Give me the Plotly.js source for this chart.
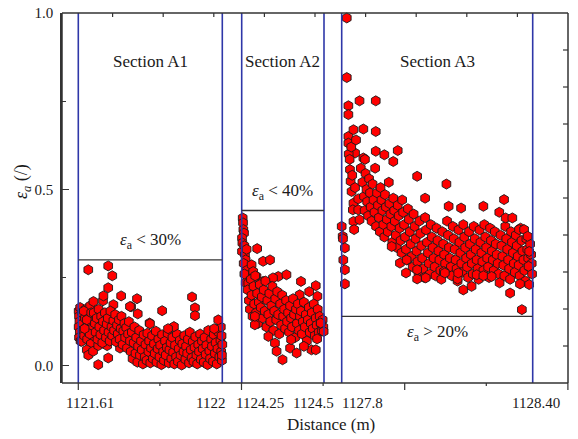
<!DOCTYPE html>
<html>
<head>
<meta charset="utf-8">
<script src="https://cdn.plot.ly/plotly-3.0.1.min.js"></script>
<style>
html,body{margin:0;padding:0;background:#fff;}
#chart{width:578px;height:439px;}
</style>
</head>
<body>
<div id="chart"></div>
<script>
// ---------- data ----------
const sectionNames = ['Section A1', 'Section A2', 'Section A3'];
const sectionStart = [1121.61, 1124.25, 1127.8];
const sectionEnd = [1122, 1124.5, 1128.40];
const thresholds = [0.30, 0.44, 0.14];
const thresholdLabels = ['<i>ε</i><sub>a</sub> &lt; 30%', '<i>ε</i><sub>a</sub> &lt; 40%', '<i>ε</i><sub>a</sub> &gt; 20%'];
const tickLabels = ['1121.61', '1122', '1124.25', '1124.5', '1127.8', '1128.40'];
const yTickVals = [0, 0.5, 1.0];
const yTickText = ['0.0', '0.5', '1.0'];

// [distance (m), strain]
const sectionA1 = [
[1121.611,0.155],[1121.612,0.140],[1121.613,0.125],[1121.611,0.110],[1121.614,0.095],[1121.612,0.080],[1121.615,0.165],[1121.616,0.070],[1121.619,0.069],
[1121.620,0.150],[1121.622,0.120],[1121.624,0.100],[1121.626,0.085],[1121.628,0.135],[1121.630,0.160],[1121.632,0.110],[1121.634,0.075],[1121.636,0.145],[1121.638,0.095],
[1121.640,0.125],[1121.642,0.170],[1121.644,0.062],[1121.646,0.105],[1121.648,0.140],[1121.650,0.085],[1121.625,0.155],[1121.633,0.130],[1121.641,0.090],[1121.645,0.150],[1121.627,0.105],
[1121.637,0.272],[1121.691,0.283],[1121.702,0.255],[1121.691,0.221],[1121.677,0.184],[1121.651,0.182],[1121.678,0.198],[1121.705,0.173],[1121.726,0.198],[1121.769,0.190],
[1121.753,0.167],[1121.771,0.147],[1121.750,0.168],[1121.803,0.121],[1121.633,0.045],[1121.637,0.030],[1121.650,0.041],[1121.664,0.057],[1121.688,0.057],[1121.691,0.022],[1121.664,0.003],[1121.723,0.050],
[1121.652,0.150],[1121.655,0.120],[1121.657,0.095],[1121.660,0.135],[1121.662,0.075],[1121.665,0.160],[1121.667,0.110],[1121.670,0.088],[1121.672,0.140],[1121.675,0.065],
[1121.677,0.125],[1121.680,0.100],[1121.682,0.150],[1121.685,0.080],[1121.687,0.118],[1121.690,0.135],[1121.692,0.095],[1121.695,0.070],[1121.697,0.155],[1121.700,0.110],
[1121.702,0.085],[1121.705,0.128],[1121.707,0.100],[1121.710,0.145],[1121.712,0.068],[1121.715,0.115],[1121.717,0.090],[1121.720,0.130],[1121.722,0.075],[1121.725,0.105],
[1121.727,0.140],[1121.730,0.060],[1121.732,0.098],[1121.735,0.120],[1121.737,0.080],[1121.740,0.108],[1121.742,0.050],[1121.745,0.090],[1121.747,0.125],[1121.750,0.070],
[1121.752,0.040],[1121.755,0.095],[1121.757,0.020],[1121.760,0.065],[1121.762,0.110],[1121.765,0.035],[1121.767,0.080],[1121.770,0.010],[1121.772,0.055],[1121.775,0.100],
[1121.777,0.030],[1121.780,0.070],[1121.782,0.045],[1121.785,0.005],[1121.787,0.088],[1121.790,0.025],[1121.792,0.060],[1121.795,0.015],[1121.797,0.092],[1121.800,0.040],
[1121.802,0.070],[1121.805,0.008],[1121.807,0.050],[1121.810,0.085],[1121.812,0.020],[1121.815,0.062],[1121.817,0.035],[1121.820,0.098],[1121.822,0.010],[1121.825,0.048],
[1121.827,0.075],[1121.830,0.025],[1121.832,0.058],[1121.835,0.003],[1121.837,0.088],[1121.840,0.040],[1121.842,0.015],[1121.845,0.070],[1121.847,0.030],[1121.850,0.052],
[1121.852,0.092],[1121.855,0.008],[1121.857,0.045],[1121.860,0.065],[1121.862,0.020],[1121.865,0.080],[1121.867,0.038],[1121.870,0.005],[1121.872,0.058],[1121.875,0.025],
[1121.877,0.090],[1121.880,0.012],[1121.882,0.048],[1121.885,0.072],[1121.887,0.030],[1121.890,0.002],[1121.892,0.062],[1121.895,0.040],[1121.897,0.085],[1121.900,0.018],
[1121.902,0.055],[1121.905,0.035],[1121.907,0.075],[1121.910,0.008],[1121.912,0.095],[1121.915,0.045],[1121.917,0.022],[1121.920,0.068],[1121.922,0.012],[1121.925,0.052],
[1121.927,0.082],[1121.930,0.030],[1121.932,0.005],[1121.935,0.060],[1121.937,0.040],[1121.940,0.090],[1121.942,0.018],[1121.945,0.070],[1121.947,0.048],[1121.950,0.010],
[1121.952,0.080],[1121.955,0.032],[1121.957,0.058],[1121.960,0.003],[1121.962,0.100],[1121.965,0.042],[1121.967,0.020],[1121.970,0.075],[1121.972,0.055],[1121.975,0.012],
[1121.977,0.088],[1121.980,0.035],[1121.982,0.065],[1121.985,0.005],[1121.987,0.048],[1121.990,0.095],[1121.992,0.025],[1121.995,0.072],[1121.997,0.040],[1121.999,0.015],
[1122.000,0.060],[1121.998,0.085],[1121.996,0.110],[1121.999,0.030],
[1121.837,0.156],[1121.918,0.195],[1121.926,0.164],[1121.926,0.142],[1121.989,0.130],[1121.978,0.105],[1121.869,0.111],[1121.853,0.105],[1121.804,0.119]
];

const sectionA2 = [
[1124.253,0.419],[1124.254,0.405],[1124.255,0.386],[1124.257,0.376],[1124.251,0.362],[1124.252,0.348],[1124.251,0.324],[1124.260,0.315],[1124.258,0.340],[1124.262,0.300],
[1124.256,0.290],[1124.265,0.330],[1124.265,0.270],[1124.270,0.255],[1124.262,0.235],[1124.258,0.260],
[1124.297,0.332],[1124.315,0.296],[1124.336,0.300],[1124.280,0.286],[1124.285,0.267],[1124.295,0.253],[1124.361,0.253],[1124.386,0.258],[1124.345,0.249],[1124.430,0.239],
[1124.475,0.227],[1124.480,0.197],[1124.426,0.201],[1124.270,0.234],[1124.315,0.239],[1124.455,0.210],
[1124.268,0.215],[1124.272,0.185],[1124.275,0.160],[1124.278,0.245],[1124.280,0.200],[1124.283,0.140],[1124.286,0.225],[1124.288,0.175],[1124.291,0.255],[1124.294,0.150],
[1124.297,0.205],[1124.300,0.120],[1124.302,0.180],[1124.305,0.230],[1124.308,0.165],[1124.311,0.195],[1124.314,0.135],[1124.317,0.215],[1124.320,0.155],[1124.322,0.240],
[1124.325,0.110],[1124.328,0.185],[1124.331,0.145],[1124.334,0.205],[1124.337,0.125],[1124.340,0.170],[1124.343,0.225],[1124.346,0.100],[1124.349,0.155],[1124.352,0.190],
[1124.355,0.130],[1124.358,0.210],[1124.361,0.145],[1124.364,0.090],[1124.367,0.175],[1124.370,0.115],[1124.373,0.200],[1124.376,0.140],[1124.379,0.160],[1124.382,0.105],
[1124.385,0.185],[1124.388,0.125],[1124.391,0.150],[1124.394,0.095],[1124.397,0.170],[1124.400,0.135],[1124.403,0.110],[1124.406,0.190],[1124.409,0.145],[1124.412,0.080],
[1124.415,0.160],[1124.418,0.120],[1124.421,0.175],[1124.424,0.100],[1124.427,0.140],[1124.430,0.155],[1124.433,0.090],[1124.436,0.125],[1124.439,0.180],[1124.442,0.110],
[1124.445,0.145],[1124.448,0.070],[1124.451,0.130],[1124.454,0.165],[1124.457,0.095],[1124.460,0.120],[1124.463,0.150],[1124.466,0.105],[1124.469,0.175],[1124.472,0.085],
[1124.475,0.135],[1124.478,0.115],[1124.481,0.160],[1124.484,0.095],[1124.487,0.140],[1124.490,0.120],[1124.493,0.100],[1124.496,0.130],[1124.498,0.110],
[1124.290,0.116],[1124.290,0.140],[1124.331,0.083],[1124.351,0.064],[1124.356,0.041],[1124.374,0.017],[1124.397,0.050],[1124.417,0.036],[1124.462,0.045],[1124.475,0.045],
[1124.479,0.076],[1124.439,0.055],[1124.400,0.074],[1124.499,0.097],[1124.490,0.121]
];

const sectionA3 = [
[1127.800,0.395],[1127.803,0.367],[1127.804,0.360],[1127.810,0.334],[1127.805,0.300],[1127.810,0.272],[1127.810,0.232],
[1127.816,0.986],[1127.816,0.817],[1127.821,0.737],[1127.821,0.712],[1127.856,0.751],[1127.907,0.751],
[1127.821,0.650],[1127.837,0.669],[1127.868,0.671],[1127.907,0.664],[1127.821,0.631],[1127.842,0.603],[1127.868,0.589],[1127.873,0.585],[1127.907,0.608],[1127.934,0.598],[1127.976,0.610],[1127.962,0.579],
[1127.826,0.556],[1127.828,0.523],[1127.831,0.494],[1127.837,0.461],[1127.835,0.442],[1127.837,0.409],[1127.839,0.386],[1127.852,0.473],[1127.852,0.442],[1127.856,0.414],
[1127.822,0.600],[1127.830,0.620],[1127.845,0.640],[1127.825,0.585],[1127.833,0.540],[1127.842,0.505],
[1127.860,0.560],[1127.865,0.520],[1127.870,0.480],[1127.872,0.440],[1127.875,0.545],[1127.878,0.500],[1127.880,0.465],[1127.883,0.425],[1127.886,0.530],[1127.889,0.490],
[1127.891,0.450],[1127.894,0.410],[1127.897,0.515],[1127.900,0.470],[1127.903,0.435],[1127.905,0.560],[1127.908,0.395],[1127.911,0.490],[1127.914,0.455],[1127.917,0.420],
[1127.920,0.380],[1127.922,0.505],[1127.925,0.470],[1127.928,0.440],[1127.931,0.400],[1127.934,0.365],[1127.936,0.485],[1127.939,0.450],[1127.942,0.415],[1127.945,0.380],
[1127.948,0.520],[1127.950,0.460],[1127.953,0.430],[1127.956,0.395],[1127.959,0.350],[1127.962,0.475],[1127.965,0.440],[1127.967,0.410],[1127.970,0.370],[1127.973,0.335],
[1127.976,0.455],[1127.979,0.425],[1127.982,0.390],[1127.985,0.355],[1127.988,0.320],[1127.990,0.470],[1127.993,0.435],[1127.996,0.400],[1127.999,0.365],[1128.002,0.330],
[1128.005,0.300],[1128.008,0.445],[1128.011,0.415],[1128.014,0.380],[1128.017,0.345],[1128.020,0.310],[1128.023,0.280],[1128.026,0.430],[1128.029,0.395],[1128.032,0.360],
[1128.035,0.325],[1128.038,0.295],[1128.041,0.265],[1128.044,0.410],[1128.047,0.375],[1128.050,0.340],[1128.053,0.305],[1128.056,0.275],[1128.059,0.250],[1128.062,0.420],
[1128.065,0.385],[1128.068,0.350],[1128.071,0.320],[1128.074,0.290],[1128.077,0.260],[1128.080,0.400],[1128.083,0.365],[1128.086,0.335],[1128.089,0.305],[1128.092,0.280],
[1128.095,0.255],[1128.098,0.390],[1128.101,0.355],[1128.104,0.325],[1128.107,0.300],[1128.110,0.270],[1128.113,0.245],[1128.116,0.380],[1128.119,0.345],[1128.122,0.315],
[1128.125,0.290],[1128.128,0.265],[1128.131,0.410],[1128.134,0.370],[1128.137,0.335],[1128.140,0.305],[1128.143,0.280],[1128.146,0.255],[1128.149,0.395],[1128.152,0.360],
[1128.155,0.330],[1128.158,0.300],[1128.161,0.275],[1128.164,0.240],[1128.167,0.385],[1128.170,0.350],[1128.173,0.320],[1128.176,0.290],[1128.179,0.265],[1128.182,0.400],
[1128.185,0.365],[1128.188,0.335],[1128.191,0.305],[1128.194,0.280],[1128.197,0.250],[1128.200,0.380],[1128.203,0.345],[1128.206,0.315],[1128.209,0.290],[1128.212,0.260],
[1128.215,0.395],[1128.218,0.360],[1128.221,0.330],[1128.224,0.300],[1128.227,0.275],[1128.230,0.245],[1128.233,0.385],[1128.236,0.350],[1128.239,0.320],[1128.242,0.295],
[1128.245,0.270],[1128.248,0.400],[1128.251,0.365],[1128.254,0.335],[1128.257,0.305],[1128.260,0.280],[1128.263,0.250],[1128.266,0.390],[1128.269,0.355],[1128.272,0.325],
[1128.275,0.300],[1128.278,0.270],[1128.281,0.380],[1128.284,0.345],[1128.287,0.315],[1128.290,0.290],[1128.293,0.260],[1128.296,0.235],[1128.299,0.370],[1128.302,0.340],
[1128.305,0.310],[1128.308,0.285],[1128.311,0.255],[1128.314,0.395],[1128.317,0.360],[1128.320,0.330],[1128.323,0.300],[1128.326,0.275],[1128.329,0.245],[1128.332,0.380],
[1128.335,0.350],[1128.338,0.320],[1128.341,0.290],[1128.344,0.265],[1128.347,0.370],[1128.350,0.340],[1128.353,0.310],[1128.356,0.285],[1128.359,0.255],[1128.362,0.390],
[1128.365,0.355],[1128.368,0.325],[1128.371,0.300],[1128.374,0.270],[1128.377,0.240],[1128.380,0.360],[1128.383,0.330],[1128.386,0.305],[1128.389,0.280],[1128.392,0.345],
[1128.395,0.315],[1128.397,0.290],[1128.398,0.260],
[1128.037,0.537],[1128.129,0.515],[1128.062,0.475],[1128.136,0.452],[1128.175,0.447],[1128.245,0.452],[1128.310,0.471],[1128.295,0.435],[1128.315,0.419],[1128.336,0.419],
[1128.357,0.386],[1128.373,0.386],[1128.389,0.324],[1128.387,0.282],[1128.384,0.367],
[1127.983,0.291],[1128.002,0.263],[1128.037,0.246],[1128.064,0.249],[1128.037,0.272],[1128.121,0.267],[1128.124,0.263],[1128.164,0.246],[1128.166,0.263],[1128.182,0.215],
[1128.208,0.225],[1128.224,0.258],[1128.245,0.255],[1128.271,0.253],[1128.329,0.206],[1128.366,0.159],[1128.360,0.232],[1128.389,0.230],[1127.957,0.338],[1128.004,0.300]
];
const sections = [sectionA1, sectionA2, sectionA3];

// ---------- layout geometry (pixels inside the 506x370 plot area) ----------
const PLOT_W = 506, PLOT_H = 370;
const startPx = [16.3, 179.7, 279.7];
const endPx = [160.3, 262.0, 470.7];
const domainPx = [[0, 170], [170, 271], [271, 506]];
const tickLabelPx = [28, 148, 197.5, 251.5, 300, 474];

const FONT = '"Liberation Serif", serif';
const FRAME = '#333333';
const TEXT = '#1a1a1a';
const BLUE = '#2e37a8';

function sectionAxis(i) {
  const s = (endPx[i] - startPx[i]) / (sectionEnd[i] - sectionStart[i]);
  const [p0, p1] = domainPx[i];
  return {
    domain: [p0 / PLOT_W, p1 / PLOT_W], anchor: 'y',
    range: [sectionStart[i] - (startPx[i] - p0) / s, sectionStart[i] + (p1 - startPx[i]) / s],
    visible: false, showgrid: false, zeroline: false, fixedrange: true
  };
}
const axName = i => (i === 0 ? 'x' : 'x' + (i + 1));

const traces = sections.map((pts, i) => ({
  type: 'scatter', mode: 'markers',
  name: sectionNames[i],
  x: pts.map(p => p[0]), y: pts.map(p => p[1]),
  xaxis: axName(i), yaxis: 'y', cliponaxis: false,
  marker: { symbol: 'hexagon', size: 10, color: '#ff0000', line: { color: '#1a1a1a', width: 0.9 } },
  showlegend: false, hoverinfo: 'x+y'
}));

const shapes = [];
const annotations = [];
sections.forEach((pts, i) => {
  const xr = axName(i);
  [sectionStart[i], sectionEnd[i]].forEach(v => shapes.push({
    type: 'line', xref: xr, yref: 'paper', x0: v, x1: v, y0: 0, y1: 1, layer: 'above',
    line: { color: BLUE, width: 1.6 }
  }));
  shapes.push({
    type: 'line', xref: xr, yref: 'y', x0: sectionStart[i], x1: sectionEnd[i],
    y0: thresholds[i], y1: thresholds[i], layer: 'above', line: { color: FRAME, width: 1.3 }
  });
  annotations.push({
    xref: xr, yref: 'y', x: (sectionStart[i] + sectionEnd[i]) / 2, y: 0.862, xanchor: 'center',
    text: sectionNames[i], showarrow: false, font: { family: FONT, size: 17, color: TEXT }
  });
  annotations.push({
    xref: xr, yref: 'y', x: (sectionStart[i] + sectionEnd[i]) / 2, y: thresholds[i], xanchor: 'center',
    yshift: i === 2 ? -17 : 19, text: thresholdLabels[i], showarrow: false,
    font: { family: FONT, size: 17, color: TEXT }
  });
});

// frame (box) and its decorative ticks, in paper coordinates
const frameLine = { color: FRAME, width: 1.5 };
const tickLine = { color: FRAME, width: 1.2 };
[[0, 0, 1, 0], [0, 1, 1, 1], [1, 0, 1, 1], [0, 0, 0, 1]].forEach(([x0, y0, x1, y1]) =>
  shapes.push({ type: 'line', xref: 'paper', yref: 'paper', x0, y0, x1, y1, layer: 'above', line: frameLine }));
for (let k = 0; k <= 6; k++) {           // bottom ticks (outside), major every other
  const px = startPx[0] + k * 81.6, len = k % 2 === 0 ? 7 : 3;
  shapes.push({ type: 'line', xref: 'paper', yref: 'paper', x0: px / PLOT_W, x1: px / PLOT_W,
    y0: 0, y1: -len / PLOT_H, layer: 'above', line: tickLine });
}
for (let k = 1; k <= 9; k++) {           // top ticks (inside)
  shapes.push({ type: 'line', xref: 'paper', yref: 'paper', x0: k / 10, x1: k / 10,
    y0: 1, y1: 1 - 4 / PLOT_H, layer: 'above', line: tickLine });
  // right ticks (inside)
  shapes.push({ type: 'line', xref: 'paper', yref: 'paper', x0: 1, x1: 1 - 5 / PLOT_W,
    y0: k / 10, y1: k / 10, layer: 'above', line: tickLine });
}

tickLabels.forEach((t, k) => annotations.push({
  xref: 'paper', yref: 'paper', x: tickLabelPx[k] / PLOT_W, y: -0.054, xanchor: 'center', yanchor: 'middle',
  text: t, showarrow: false, font: { family: FONT, size: 15, color: TEXT }
}));
annotations.push({
  xref: 'paper', yref: 'paper', x: 269 / PLOT_W, y: -0.111, xanchor: 'center', yanchor: 'middle',
  text: 'Distance (m)', showarrow: false, font: { family: FONT, size: 17, color: TEXT }
});
annotations.push({
  xref: 'paper', yref: 'paper', x: -40 / PLOT_W, y: 0.543, xanchor: 'center', yanchor: 'middle',
  text: '<i>ε<sub>a</sub></i> (/)', textangle: -90, showarrow: false,
  font: { family: FONT, size: 18, color: TEXT }
});

const layout = {
  width: 578, height: 439,
  margin: { l: 62, r: 10, t: 13, b: 56 },
  paper_bgcolor: '#ffffff', plot_bgcolor: '#ffffff',
  font: { family: FONT, size: 15, color: TEXT },
  showlegend: false,
  xaxis: sectionAxis(0), xaxis2: sectionAxis(1), xaxis3: sectionAxis(2),
  yaxis: {
    anchor: 'x', range: [-0.049, 1.0], showgrid: false, zeroline: false,
    showline: true, linecolor: FRAME, linewidth: 1.5,
    ticks: 'inside', tickvals: yTickVals, ticktext: yTickText,
    ticklen: 7, tickwidth: 1.2, tickcolor: FRAME, ticklabelstandoff: 4,
    minor: { tickvals: [0.25, 0.75], ticks: 'inside', ticklen: 4, tickwidth: 1.2, tickcolor: FRAME },
    tickfont: { family: FONT, size: 15, color: TEXT }, fixedrange: true
  },
  shapes: shapes,
  annotations: annotations
};

Plotly.newPlot('chart', traces, layout, { displayModeBar: false });
</script>
</body>
</html>
